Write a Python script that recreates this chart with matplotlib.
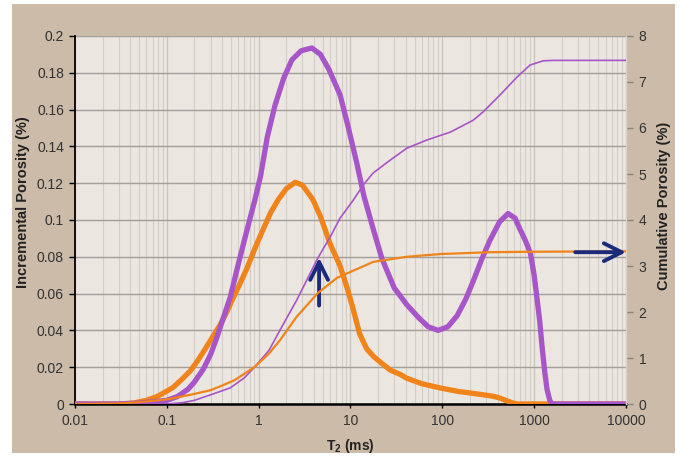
import numpy as np
import matplotlib.pyplot as plt
from matplotlib.patches import Rectangle
from matplotlib.ticker import LogLocator, NullFormatter, FixedLocator

plt.rcParams['font.family'] = ['Liberation Sans', 'DejaVu Sans']
plt.rcParams['mathtext.fontset'] = 'custom'
plt.rcParams['mathtext.rm'] = 'Liberation Sans'
plt.rcParams['mathtext.bf'] = 'Liberation Sans:bold'

# incremental porosity, sample A (purple)
t_inc_a = [0.01, 0.03, 0.05, 0.08, 0.1, 0.13, 0.17, 0.2, 0.25, 0.3, 0.35, 0.42, 0.49, 0.6,
           0.75, 0.91, 1.05, 1.24, 1.5, 1.87, 2.3, 2.9, 3.8, 4.7, 5.8, 7.7, 9.5, 11.7, 14,
           17.7, 22, 30, 41, 55, 70, 90, 115, 145, 180, 218, 270, 330, 420, 520, 620, 700,
           800, 910, 1000, 1070, 1150, 1220, 1300, 1380, 1480, 1560, 10000]
inc_a = [0, 0, 0.0005, 0.0015, 0.002, 0.004, 0.008, 0.012, 0.019, 0.027, 0.036, 0.048, 0.058,
         0.076, 0.095, 0.111, 0.124, 0.145, 0.162, 0.177, 0.187, 0.192, 0.1935, 0.19, 0.182,
         0.168, 0.150, 0.131, 0.113, 0.095, 0.079, 0.063, 0.054, 0.047, 0.042, 0.040, 0.042,
         0.048, 0.057, 0.067, 0.079, 0.089, 0.099, 0.1035, 0.101, 0.095, 0.089, 0.082, 0.070,
         0.058, 0.045, 0.031, 0.018, 0.008, 0.002, 0, 0]

# incremental porosity, sample B (orange)
t_inc_b = [0.01, 0.03, 0.043, 0.06, 0.078, 0.1, 0.117, 0.15, 0.18, 0.22, 0.27, 0.32, 0.38,
           0.45, 0.52, 0.62, 0.75, 0.9, 1.12, 1.35, 1.63, 2.0, 2.5, 3.0, 3.9, 4.7, 6.0, 7.7,
           9.2, 10.5, 12.6, 15, 17.7, 22, 27, 35, 41, 60, 95, 150, 200, 280, 350, 420, 500,
           590, 650, 10000]
inc_b = [0, 0, 0.0005, 0.002, 0.004, 0.007, 0.009, 0.014, 0.018, 0.024, 0.031, 0.037, 0.043,
         0.050, 0.057, 0.065, 0.074, 0.084, 0.095, 0.104, 0.111, 0.117, 0.1205, 0.119, 0.111,
         0.102, 0.087, 0.075, 0.063, 0.053, 0.038, 0.030, 0.026, 0.022, 0.0185, 0.016, 0.014,
         0.011, 0.0087, 0.0068, 0.006, 0.005, 0.0043, 0.0033, 0.0018, 0.0005, 0, 0]

# cumulative porosity (right axis)
t_cum_a = [0.01, 0.1, 0.15, 0.2, 0.3, 0.49, 0.7, 0.91, 1.3, 1.71, 2.6, 4.4, 6.0, 7.7, 10.7,
           14, 17.6, 27, 41, 68, 122, 217, 278, 426, 653, 904, 1253, 1600, 10000]
cum_a = [0, 0, 0.03, 0.08, 0.2, 0.35, 0.57, 0.81, 1.17, 1.61, 2.26, 3.17, 3.63, 4.04, 4.43,
         4.78, 5.02, 5.30, 5.56, 5.74, 5.91, 6.17, 6.35, 6.72, 7.11, 7.37, 7.46, 7.47, 7.47]

t_cum_b = [0.01, 0.03, 0.05, 0.1, 0.18, 0.3, 0.41, 0.55, 0.91, 1.3, 1.71, 2.6, 4.4, 7.1, 12.6,
           17.7, 41, 95, 330, 1000, 10000]
cum_b = [0, 0.01, 0.04, 0.1, 0.2, 0.3, 0.41, 0.52, 0.81, 1.1, 1.39, 1.9, 2.41, 2.74, 2.96,
         3.09, 3.2, 3.26, 3.30, 3.31, 3.32]

purple = '#A755C8'
orange = '#F0841A'
navy = '#1C2A7C'
text_col = '#333333'

fig = plt.figure(figsize=(6.8, 4.57), dpi=100, facecolor='white')
fig.patches.append(Rectangle((12 / 680, 4 / 457), 663 / 680, 449 / 457,
                             transform=fig.transFigure, facecolor='#CBBBA8',
                             edgecolor='none', zorder=-10))

ax = fig.add_axes([75 / 680, 53 / 457, 551 / 680, 368 / 457])
ax.set_facecolor('#EBE6E0')
ax.set_xscale('log')
ax.set_xlim(0.01, 10000)
ax.set_ylim(0, 0.2)
ax.set_yticks(np.arange(0, 0.201, 0.02))
ax.set_yticklabels(['0', '0.02', '0.04', '0.06', '0.08', '0.1', '0.12', '0.14', '0.16',
                    '0.18', '0.2'])
ax.xaxis.set_major_locator(FixedLocator([0.01, 0.1, 1, 10, 100, 1000, 10000]))
ax.set_xticklabels(['0.01', '0.1', '1', '10', '100', '1000', '10000'])
ax.xaxis.set_minor_locator(LogLocator(base=10, subs=np.arange(2, 10), numticks=20))
ax.xaxis.set_minor_formatter(NullFormatter())

ax.grid(which='major', axis='y', color='#A29E99', linewidth=1.0)
ax.grid(which='major', axis='x', color='#C9C4BD', linewidth=0.9)
ax.grid(which='minor', axis='x', color='#D3CEC8', linewidth=0.8)
ax.set_axisbelow(True)

ax.plot(t_inc_b, inc_b, color=orange, linewidth=3.8, solid_capstyle='butt',
        solid_joinstyle='round', zorder=3)
ax.plot(t_inc_a, inc_a, color=purple, linewidth=3.8, solid_capstyle='butt',
        solid_joinstyle='round', zorder=4)

for side in ['top', 'right']:
    ax.spines[side].set_visible(False)
ax.spines['left'].set_color('black')
ax.spines['left'].set_linewidth(1.3)
ax.spines['bottom'].set_color('black')
ax.spines['bottom'].set_linewidth(1.8)
ax.tick_params(axis='y', which='major', length=4, width=1, colors='black',
               labelcolor=text_col, labelsize=10, pad=4)
ax.tick_params(axis='x', which='major', length=3, width=1, colors='black',
               labelcolor=text_col, labelsize=10, pad=4)
ax.tick_params(axis='x', which='minor', length=0)

ax2 = ax.twinx()
ax2.set_ylim(0, 8)
ax2.set_yticks(range(0, 9))
ax2.plot(t_cum_a, cum_a, color=purple, linewidth=1.2, zorder=3)
ax2.plot(t_cum_b, cum_b, color=orange, linewidth=1.6, zorder=3)
for side in ['top', 'left', 'bottom']:
    ax2.spines[side].set_visible(False)
ax2.spines['right'].set_color('#D8D2CA')
ax2.spines['right'].set_linewidth(1.0)
ax2.tick_params(axis='y', length=5, width=1, colors='#8A857F', labelcolor=text_col,
                labelsize=10, pad=4)

# arrows pointing to the axes
ax.annotate('', xy=(4.55, 0.0795), xytext=(4.55, 0.0535),
            arrowprops=dict(arrowstyle='->', color=navy, lw=2.8, mutation_scale=32,
                            shrinkA=0, shrinkB=0))
ax2.annotate('', xy=(10000, 3.30), xytext=(2800, 3.30),
             arrowprops=dict(arrowstyle='->', color=navy, lw=2.8, mutation_scale=32,
                             shrinkA=0, shrinkB=0),
             annotation_clip=False)

fig.text(23 / 680, 1 - 202 / 457, 'Incremental Porosity (%)', rotation=90, ha='center',
         va='center', fontsize=10.5, fontweight='bold', color='#222222')
fig.text(664 / 680, 1 - 206 / 457, 'Cumulative Porosity (%)', rotation=90, ha='center',
         va='center', fontsize=10.5, fontweight='bold', color='#222222')
fig.text(350 / 680, 1 - 446 / 457, r'$\mathbf{T_2}$ (ms)', ha='center', va='center',
         fontsize=10, fontweight='bold', color='#222222')

fig.savefig('out.png', dpi=100, facecolor='white')
